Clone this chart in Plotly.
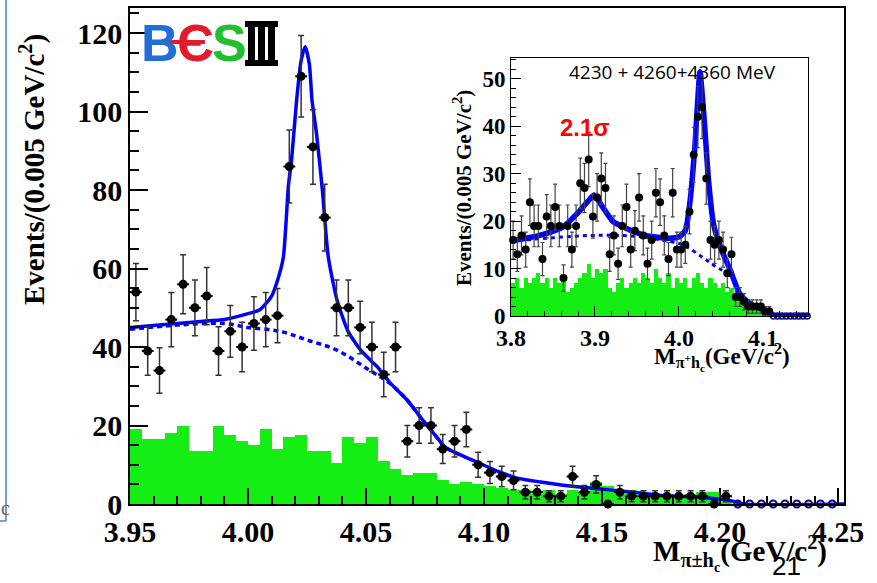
import plotly.graph_objects as go
import numpy as np

W, H = 877, 583

# ---------------- main plot data (bins of 0.005 GeV starting at 3.95) ----------------
main_lo, main_w = 3.95, 0.005
main_counts = [54, 39, 34, 47, 56, 50, 53, 39, 44, 40,
               46, 47, 48, 86, 109, 91, 73, 50, 50, 45,
               40, 33, 40, 16, 20, 20, 14, 16, 19, 10,
               8, 7, 6, 3, 3, 2, 2, 7, 3, 5,
               0, 3, 2, 2, 2, 2, 2, 2, 2, 0,
               2, 0, 0, 0, 0, 0, 0, 0, 0, 0]
main_err = [7.3, 6.2, 5.8, 6.9, 7.5, 7.1, 7.3, 6.2, 6.6, 6.3,
            6.8, 6.9, 6.9, 9.3, 10.4, 9.5, 8.5, 7.1, 7.1, 6.7,
            6.3, 5.7, 6.3, 4.0, 4.5, 4.5, 3.7, 4.0, 4.4, 3.2,
            2.8, 2.6, 2.4, 1.7, 1.7, 1.4, 1.4, 2.6, 1.7, 2.2,
            0, 1.7, 1.4, 1.4, 1.4, 1.4, 1.4, 1.4, 1.4, 0,
            1.4, 0, 0, 0, 0, 0, 0, 0, 0, 0]
main_sideband = [19, 16.5, 16.5, 18, 20, 13.5, 13.5, 20, 17.5, 16,
                 15, 19, 14, 17, 17.5, 13.5, 13.5, 10.5, 17, 15.5,
                 17, 11, 9, 7.5, 8, 8, 6, 5, 5.5, 5,
                 4.5, 4, 3.5, 3.5, 2.5, 3.5, 2.5, 3.5, 3, 5.5,
                 4.5, 2.5, 3.5, 2, 2, 2.5, 2, 2.5, 3, 3,
                 0.5, 0, 0, 0, 0, 0, 0, 0, 0, 0]
main_fit_x = [3.95, 3.96, 3.97, 3.98, 3.99, 4.00, 4.005, 4.01, 4.013, 4.015, 4.0171,
              4.0185, 4.0206, 4.0225, 4.0242, 4.026, 4.0271, 4.029, 4.0315, 4.034,
              4.0377, 4.0424, 4.048, 4.0547, 4.060, 4.0674, 4.074, 4.080, 4.0835,
              4.090, 4.098, 4.106, 4.114, 4.124, 4.1335, 4.146, 4.16, 4.175, 4.19,
              4.205, 4.21, 4.2525]
main_fit_y = [45, 45.5, 46, 46.5, 47, 48.5, 49.5, 53, 58, 63, 81,
              88, 103, 113, 116.5, 112, 103, 94.5, 80, 63,
              52, 44, 39, 35, 31, 26.5, 21.4, 17, 14.5,
              12.5, 10.4, 8.3, 6.6, 5.6, 4.8, 4.0, 3.2, 2.2, 1.8,
              0.8, 0, 0]
main_bkg_x = [3.95, 3.97, 3.99, 4.00, 4.0136, 4.025, 4.0377, 4.0517, 4.060, 4.0674,
              4.074, 4.080, 4.0835, 4.090]
main_bkg_y = [44.5, 45.6, 46, 45, 44, 41.8, 39.2, 34, 30.8, 26.5,
              21.4, 17, 14.5, 12.5]

# ---------------- inset data (bins of 0.005 GeV starting at 3.80) ----------------
ins_lo, ins_w = 3.80, 0.005
ins_counts = [16, 13, 17, 14, 24, 19, 19, 12, 21, 19,
              23, 19, 8, 19, 14, 19, 28, 27, 33, 21,
              25, 29, 27, 13, 17, 11, 19, 23, 14, 18,
              25, 17, 11, 16, 26, 24, 17, 12, 26, 14,
              14, 15, 22, 34, 42, 44, 29, 16, 15, 16,
              14, 9, 13, 4, 4, 3, 2, 2, 2, 2,
              1, 1, 0, 0, 0, 0, 0, 0, 0, 0, 0]
ins_err = [4.0, 3.6, 4.1, 3.7, 4.9, 4.4, 4.4, 3.5, 4.6, 4.4,
           4.8, 4.4, 2.8, 4.4, 3.7, 4.4, 5.3, 5.2, 5.7, 4.6,
           5.0, 5.4, 5.2, 3.6, 4.1, 3.3, 4.4, 4.8, 3.7, 4.2,
           5.0, 4.1, 3.3, 4.0, 5.1, 4.9, 4.1, 3.5, 5.1, 3.7,
           3.7, 3.9, 4.7, 5.8, 6.5, 6.6, 5.4, 4.0, 3.9, 4.0,
           3.7, 3.0, 3.6, 2.0, 2.0, 1.7, 1.4, 1.4, 1.4, 1.4,
           1.0, 1.0, 0, 0, 0, 0, 0, 0, 0, 0, 0]
ins_sideband = [7, 8, 6, 8, 7, 8, 9, 7, 8, 6,
                8, 7, 8, 5, 6, 7, 8, 9, 11, 8,
                10, 9, 10, 6, 5, 7, 8, 6, 7, 8,
                7, 9, 8, 7, 10, 8, 7, 9, 6, 8,
                7, 8, 6, 8, 9, 7, 6, 8, 7, 6,
                7, 5, 6, 4, 4, 3, 3, 2, 2, 1.5,
                1, 0.5, 0, 0, 0, 0, 0, 0, 0, 0, 0]
ins_fit_x = [3.80, 3.834, 3.862, 3.881, 3.893, 3.899, 3.909, 3.921, 3.937, 3.96,
             3.988, 4.000, 4.0075, 4.013, 4.019, 4.0225, 4.025, 4.028, 4.031, 4.035,
             4.041, 4.049, 4.061, 4.072, 4.084, 4.100, 4.112, 4.1536]
ins_fit_y = [15.8, 17, 18.8, 22, 24.5, 25.5, 23, 20, 18.5, 17,
             16.4, 16.7, 18, 24, 36, 46, 51.5, 46, 39, 29,
             19.5, 14.6, 9.7, 4.8, 2.7, 1.3, 0.2, 0]
ins_bkg_x = [3.80, 3.85, 3.90, 3.95, 3.98, 4.00, 4.01, 4.027, 4.039, 4.051, 4.061]
ins_bkg_y = [15.8, 16.5, 17, 16.8, 16, 15.3, 14.5, 12.5, 11, 9.7, 9.0]

main_x = np.round(main_lo + main_w * (np.arange(len(main_counts)) + 0.5), 5)
ins_x = np.round(ins_lo + ins_w * (np.arange(len(ins_counts)) + 0.5), 5)

GREEN = '#14ee14'
BLUE = '#0000ff'
SERIF = 'Liberation Serif'


def px(x):
    return x / W


def py(y):
    return 1 - y / H


fig = go.Figure()

# ---------- main ----------
fig.add_trace(go.Bar(x=main_x, y=main_sideband, width=main_w, marker=dict(color=GREEN, line=dict(width=0)),
                     xaxis='x', yaxis='y', showlegend=False))
fig.add_trace(go.Scatter(x=main_bkg_x, y=main_bkg_y, mode='lines', line=dict(color=BLUE, width=3.5, dash='5px,4px', shape='spline'),
                         xaxis='x', yaxis='y', showlegend=False))
fig.add_trace(go.Scatter(x=main_fit_x, y=main_fit_y, mode='lines', line=dict(color=BLUE, width=3.5, shape='spline', smoothing=0.6),
                         xaxis='x', yaxis='y', showlegend=False))
nz = [i for i, c in enumerate(main_counts) if not (c == 0 and main_x[i] > 4.205)]
zz = [i for i, c in enumerate(main_counts) if (c == 0 and main_x[i] > 4.205)]
fig.add_trace(go.Scatter(x=[main_x[i] for i in zz], y=[main_counts[i] for i in zz], mode='markers',
                         marker=dict(symbol='circle-open', size=7, color='#0a0a80', line=dict(width=2)),
                         cliponaxis=False, xaxis='x', yaxis='y', showlegend=False))
fig.add_trace(go.Scatter(x=[main_x[i] for i in nz], y=[main_counts[i] for i in nz], mode='markers',
                         marker=dict(symbol='circle', size=9, color='black'),
                         error_y=dict(type='data', array=[main_err[i] for i in nz], color='#333333', thickness=1.5, width=3),
                         error_x=dict(type='constant', value=0.0025, color='black', thickness=2, width=0),
                         cliponaxis=False, xaxis='x', yaxis='y', showlegend=False))

# ---------- inset ----------
fig.add_trace(go.Bar(x=ins_x, y=ins_sideband, width=ins_w, marker=dict(color=GREEN, line=dict(width=0)),
                     xaxis='x2', yaxis='y2', showlegend=False))
fig.add_trace(go.Scatter(x=ins_bkg_x, y=ins_bkg_y, mode='lines', line=dict(color=BLUE, width=3, dash='4px,4px', shape='spline'),
                         xaxis='x2', yaxis='y2', showlegend=False))
fig.add_trace(go.Scatter(x=ins_fit_x, y=ins_fit_y, mode='lines', line=dict(color=BLUE, width=5.5, shape='spline', smoothing=0.6),
                         xaxis='x2', yaxis='y2', showlegend=False))
inz = [i for i, c in enumerate(ins_counts) if c > 0]
izz = [i for i, c in enumerate(ins_counts) if c == 0]
fig.add_trace(go.Scatter(x=[ins_x[i] for i in izz], y=[ins_counts[i] for i in izz], mode='markers',
                         marker=dict(symbol='circle-open', size=6, color='#0a0a80', line=dict(width=1.5)),
                         cliponaxis=False, xaxis='x2', yaxis='y2', showlegend=False))
fig.add_trace(go.Scatter(x=[ins_x[i] for i in inz], y=[ins_counts[i] for i in inz], mode='markers',
                         marker=dict(symbol='circle', size=8, color='black'),
                         error_y=dict(type='data', array=[ins_err[i] for i in inz], color='#444444', thickness=1.2, width=2),
                         cliponaxis=False, xaxis='x2', yaxis='y2', showlegend=False))

tf_main = dict(family=SERIF, size=30, color='black', weight='bold')
tf_ins = dict(family=SERIF, size=24, color='black', weight='bold')

fig.update_layout(
    width=W, height=H, margin=dict(l=0, r=0, t=0, b=0, autoexpand=False),
    paper_bgcolor='white', plot_bgcolor='white', bargap=0, barmode='overlay',
    xaxis=dict(domain=[px(130), px(844)], range=[3.95, 4.2525], anchor='y', automargin=False,
               tickvals=[3.95, 4.00, 4.05, 4.10, 4.15, 4.20, 4.25],
               ticktext=['3.95', '4.00', '4.05', '4.10', '4.15', '4.20', '4.25'],
               ticks='inside', ticklen=16, tickwidth=1.5, tickcolor='black',
               minor=dict(dtick=0.01, ticks='inside', ticklen=8, tickcolor='black'),
               showline=True, linecolor='black', linewidth=1.5, mirror=True,
               showgrid=False, zeroline=False, tickfont=tf_main),
    yaxis=dict(domain=[py(504), py(8)], range=[0, 126.4], anchor='x', automargin=False,
               tickvals=[0, 20, 40, 60, 80, 100, 120],
               ticks='inside', ticklen=18, tickwidth=1.5, tickcolor='black',
               minor=dict(dtick=5, ticks='inside', ticklen=9, tickcolor='black'),
               showline=True, linecolor='black', linewidth=1.5, mirror=True,
               showgrid=False, zeroline=False, tickfont=tf_main),
    xaxis2=dict(domain=[px(511), px(808)], range=[3.8, 4.1536], anchor='y2', automargin=False,
                tickvals=[3.8, 3.9, 4.0, 4.1], ticktext=['3.8', '3.9', '4.0', '4.1'],
                ticks='inside', ticklen=10, tickcolor='black',
                minor=dict(dtick=0.02, ticks='inside', ticklen=5, tickcolor='black'),
                showline=True, linecolor='black', linewidth=1, mirror=True,
                showgrid=False, zeroline=False, tickfont=tf_ins),
    yaxis2=dict(domain=[py(316), py(58)], range=[0, 54.4], anchor='x2', automargin=False,
                tickvals=[0, 10, 20, 30, 40, 50],
                ticks='inside', ticklen=10, tickcolor='black',
                minor=dict(dtick=2, ticks='inside', ticklen=5, tickcolor='black'),
                showline=True, linecolor='black', linewidth=1, mirror=True,
                showgrid=False, zeroline=False, tickfont=dict(family=SERIF, size=23, color='black', weight='bold')),
)

ann = []
# main axis titles
ann.append(dict(x=px(32), y=py(170), text='Events/(0.005 GeV/c<sup>2</sup>)', textangle=-90,
                font=dict(family=SERIF, size=29, color='black', weight='bold')))
ann.append(dict(x=px(740), y=py(553), text='M<sub>π±h<sub>c</sub></sub>(GeV/c<sup>2</sup>)',
                font=dict(family=SERIF, size=29, color='black', weight='bold')))
# inset titles
ann.append(dict(x=px(462), y=py(188), text='Events/(0.005 GeV/c<sup>2</sup>)', textangle=-90,
                font=dict(family=SERIF, size=21, color='black', weight='bold')))
ann.append(dict(x=px(722), y=py(357), text='M<sub>π<sup>+</sup>h<sub>c</sub></sub>(GeV/c<sup>2</sup>)',
                font=dict(family=SERIF, size=23, color='black', weight='bold')))
ann.append(dict(x=px(672), y=py(72), text='4230 + 4260+4360 MeV',
                font=dict(family='Open Sans', size=19, color='black')))
ann.append(dict(x=px(585), y=py(127), text='2.1σ',
                font=dict(family='Liberation Sans', size=24, color='#ff0000', weight='bold')))
# BESIII logo letters
ann.append(dict(x=px(160), y=py(43), text='B', font=dict(family='Liberation Sans', size=52, color='#1f6fd6', weight='bold')))
ann.append(dict(x=px(195), y=py(43), text='Є', font=dict(family='Liberation Sans', size=52, color='#e21a2a', weight='bold')))
ann.append(dict(x=px(229), y=py(43), text='S', font=dict(family='Liberation Sans', size=52, color='#1fbf2f', weight='bold')))
# slide page number and clipped char
ann.append(dict(x=px(786), y=py(566), text='21', font=dict(family='Liberation Sans', size=26, color='black')))
ann.append(dict(x=px(5), y=py(508), text='c', font=dict(family=SERIF, size=20, color='#666666')))

for a in ann:
    a.update(xref='paper', yref='paper', showarrow=False, xanchor='center', yanchor='middle')
fig.update_layout(annotations=ann)


def rect(x0, y0, x1, y1, color):
    return dict(type='rect', xref='paper', yref='paper', x0=px(x0), x1=px(x1), y0=py(y1), y1=py(y0),
                fillcolor=color, line=dict(width=0), layer='above')


shapes = [
    dict(type='line', xref='paper', yref='paper', x0=px(145), x1=px(205), y0=py(42), y1=py(42),
         line=dict(color='#e21a2a', width=4)),
    # roman numeral III of the logo
    rect(245, 21, 278, 27, 'black'),
    rect(245, 60, 278, 66, 'black'),
    rect(248, 21, 255, 66, 'black'),
    rect(258, 21, 265, 66, 'black'),
    rect(268, 21, 275, 66, 'black'),
    # slide text-box edge at the far left
    dict(type='line', xref='paper', yref='paper', x0=px(6), x1=px(6), y0=py(0), y1=py(521),
         line=dict(color='#4a7ebb', width=1.5)),
    dict(type='line', xref='paper', yref='paper', x0=px(0), x1=px(6), y0=py(521), y1=py(521),
         line=dict(color='#4a7ebb', width=1.5)),
]
fig.update_layout(shapes=shapes)

fig.write_html('out.html', config={'displayModeBar': False},
               post_script="document.body.style.margin='0px';")
